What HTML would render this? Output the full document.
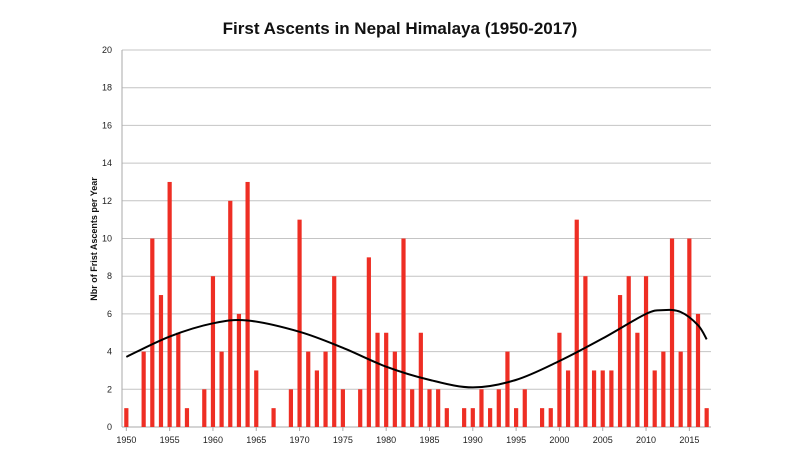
<!DOCTYPE html>
<html><head><meta charset="utf-8"><style>
body{margin:0;background:#fff;}
svg text{font-family:"Liberation Sans",sans-serif;}
</style></head><body>
<svg id="c" width="800" height="457" xmlns="http://www.w3.org/2000/svg">
<rect width="800" height="457" fill="#fff"/>
<text x="400" y="34" text-anchor="middle" font-size="17" font-weight="bold" fill="#111">First Ascents in Nepal Himalaya (1950-2017)</text>
<text transform="translate(97,239) rotate(-90)" text-anchor="middle" font-size="9" font-weight="bold" fill="#111">Nbr of Frist Ascents per Year</text>
</svg>
<script>
var s=document.getElementById('c'),NS='http://www.w3.org/2000/svg';
function el(t,a,txt){var e=document.createElementNS(NS,t);for(var k in a)e.setAttribute(k,a[k]);if(txt!=null)e.textContent=txt;s.appendChild(e);return e;}
var x0=122,x1=711,y0=427,yt=50,u=(y0-yt)/20,step=(x1-x0)/68;
for(var v=0;v<=20;v+=2){var y=y0-v*u;if(v>0)el('line',{x1:x0,x2:x1,y1:y,y2:y,stroke:'#c4c4c4','stroke-width':1});
el('text',{x:x0-10,y:y+3,'text-anchor':'end','font-size':9,fill:'#222'},v);}
el('line',{x1:x0,x2:x0,y1:yt,y2:y0,stroke:'#aaa'});
el('line',{x1:x0,x2:x1,y1:y0,y2:y0,stroke:'#aaa'});
var d=[1,0,4,10,7,13,5,1,0,2,8,4,12,6,13,3,0,1,0,2,11,4,3,4,8,2,0,2,9,5,5,4,10,2,5,2,2,1,0,1,1,2,1,2,4,1,2,0,1,1,5,3,11,8,3,3,3,7,8,5,8,3,4,10,4,10,6,1];
function X(yr){return x0+(yr-1950+0.5)*step;}
d.forEach(function(v,i){var cx=X(1950+i);if(v>0)el('rect',{x:cx-2.1,y:y0-v*u,width:4.2,height:v*u,fill:'#ee2e24'});});
for(var yr=1950;yr<=2015;yr+=5){var cx=X(yr);el('line',{x1:cx,x2:cx,y1:y0,y2:y0+4,stroke:'#aaa'});
el('text',{x:cx,y:y0+16,'text-anchor':'middle','font-size':9,fill:'#222'},yr);}
var p=[[1950,3.72],[1955,4.8],[1960,5.5],[1964,5.65],[1970,5.05],[1975,4.2],[1980,3.2],[1985,2.5],[1990,2.1],[1995,2.5],[2000,3.5],[2005,4.7],[2010,6.0],[2012,6.2],[2014,6.1],[2016,5.4],[2017,4.65]];
var pts=p.map(function(q){return [X(q[0]),y0-q[1]*u];});
var path='M'+pts[0][0]+','+pts[0][1];
for(var i=0;i<pts.length-1;i++){var a=pts[i-1]||pts[i],b=pts[i],c=pts[i+1],e=pts[i+2]||c;
path+=' C'+(b[0]+(c[0]-a[0])/6)+','+(b[1]+(c[1]-a[1])/6)+' '+(c[0]-(e[0]-b[0])/6)+','+(c[1]-(e[1]-b[1])/6)+' '+c[0]+','+c[1];}
el('path',{d:path,fill:'none',stroke:'#000','stroke-width':2});
</script>
</body></html>
